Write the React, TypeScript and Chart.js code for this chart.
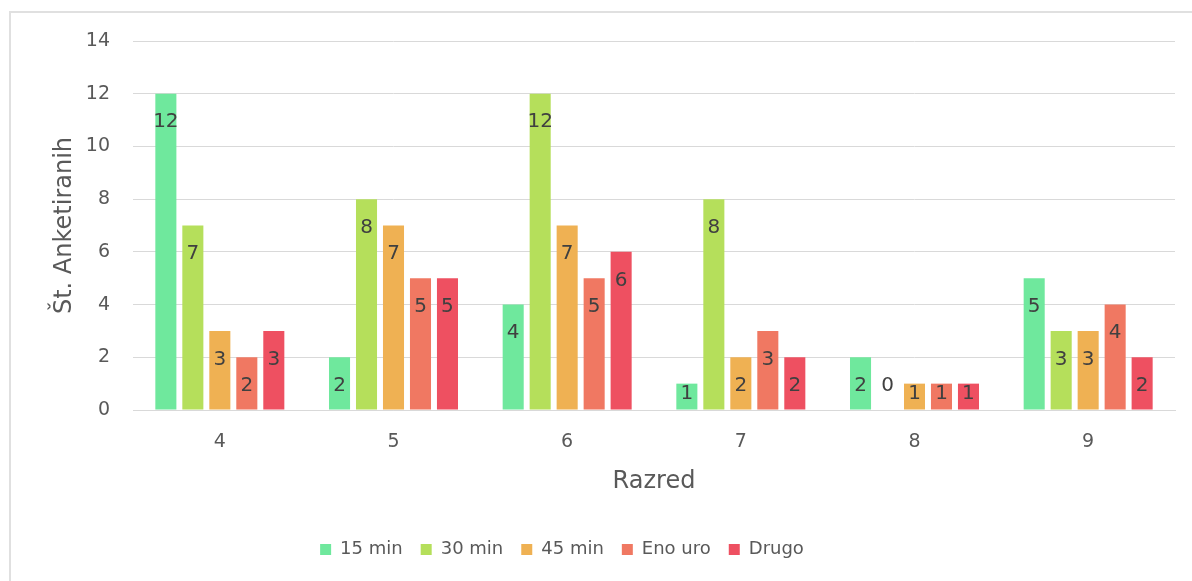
import React, { useEffect, useRef } from "react";
import { Chart, registerables } from "chart.js";

Chart.register(...registerables);

const categories = ["4", "5", "6", "7", "8", "9"];
const seriesNames = ["15 min", "30 min", "45 min", "Eno uro", "Drugo"];
const min15 = [12, 2, 4, 1, 2, 5];
const min30 = [7, 8, 12, 8, 0, 3];
const min45 = [3, 7, 7, 2, 1, 3];
const enoUro = [2, 5, 5, 3, 1, 4];
const drugo = [3, 5, 6, 2, 1, 2];
const seriesColors = ["#6FE89D", "#B5DF5B", "#EFB153", "#F07862", "#EE5061"];
const yTicks = [0, 2, 4, 6, 8, 10, 12, 14];

const FONT = "'DejaVu Sans', sans-serif";

const dataLabelPlugin = {
  id: "dataLabels",
  afterDatasetsDraw(chart: any) {
    const ctx = chart.ctx;
    ctx.save();
    ctx.font = `20px ${FONT}`;
    ctx.fillStyle = "#404040";
    ctx.textAlign = "center";
    ctx.textBaseline = "middle";
    chart.data.datasets.forEach((ds: any, i: number) => {
      const meta = chart.getDatasetMeta(i);
      meta.data.forEach((el: any, j: number) => {
        const v = ds.data[j];
        let cy = el.y + 28.5;
        if (v === 0) cy = el.base - 24;
        else cy = Math.min(cy, el.base - 16);
        ctx.fillText(String(v), el.x, cy);
      });
    });
    ctx.restore();
  },
};

const legendShift = {
  id: "legendShift",
  afterLayout(chart: any) {
    const lg = chart.legend;
    if (!lg) return;
    const half = (lg.right - lg.left) / 2;
    lg.left = 562 - half;
    lg.right = 562 + half;
  },
};

export default function App() {
  const ref = useRef<HTMLCanvasElement>(null);
  useEffect(() => {
    const values = [min15, min30, min45, enoUro, drugo];
    const chart = new Chart(ref.current!, {
      type: "bar",
      data: {
        labels: categories,
        datasets: seriesNames.map((name, i) => ({
          label: name,
          data: values[i],
          backgroundColor: seriesColors[i],
          borderWidth: 0,
          categoryPercentage: 0.777,
          barPercentage: 0.78,
        })),
      },
      options: {
        animation: false,
        responsive: false,
        maintainAspectRatio: false,
        layout: { padding: { left: 10, right: 17, top: 41, bottom: 12.5 } },
        plugins: {
          tooltip: { enabled: false },
          legend: {
            position: "bottom",
            labels: {
              boxWidth: 11,
              boxHeight: 11,
              padding: 18,
              color: "#595959",
              font: { family: FONT, size: 18 },
            },
          },
        },
        scales: {
          x: {
            grid: { display: false, drawTicks: false },
            border: { display: true, color: "#D9D9D9", width: 1 },
            ticks: { color: "#595959", font: { family: FONT, size: 19 }, padding: 21 },
            title: {
              display: true,
              text: "Razred",
              color: "#595959",
              font: { family: FONT, size: 24 },
              padding: { top: 0, bottom: 26 },
            },
            afterFit(scale: any) {
              scale.height = 112.5;
            },
          },
          y: {
            min: 0,
            max: 14,
            afterBuildTicks(scale: any) {
              scale.ticks = yTicks.map((v) => ({ value: v }));
            },
            grid: { color: "#D9D9D9", lineWidth: 1, drawTicks: false },
            border: { display: false },
            ticks: { color: "#595959", font: { family: FONT, size: 19 }, padding: 23 },
            title: {
              display: true,
              text: "Št. Anketiranih",
              color: "#595959",
              font: { family: FONT, size: 24 },
              padding: { top: 40, bottom: 0 },
            },
            afterFit(scale: any) {
              scale.width = 123;
            },
          },
        },
      },
      plugins: [dataLabelPlugin, legendShift],
    });
    return () => chart.destroy();
  }, []);

  return (
    <div
      style={{
        position: "absolute",
        left: 0,
        top: 0,
        width: 1192,
        height: 581,
        overflow: "hidden",
        background: "#FFFFFF",
      }}
    >
      <div
        style={{
          position: "absolute",
          left: 9,
          top: 11,
          width: 1400,
          height: 800,
          border: "2px solid #E0E0E0",
        }}
      />
      <canvas
        ref={ref}
        width={1192}
        height={581}
        style={{ position: "absolute", left: 0, top: 0, width: 1192, height: 581 }}
      />
    </div>
  );
}
